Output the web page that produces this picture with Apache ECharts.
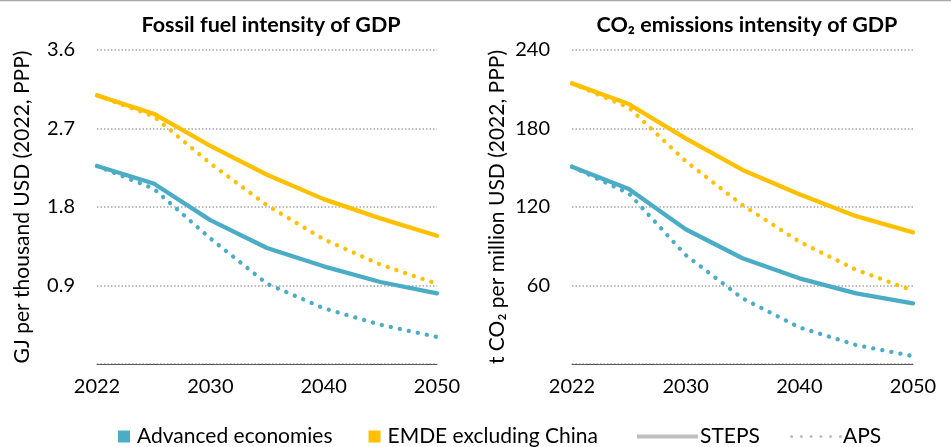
<!DOCTYPE html>
<html>
<head>
<meta charset="utf-8">
<script src="https://cdn.jsdelivr.net/npm/echarts@6/dist/echarts.min.js"></script>
<style>
html,body{margin:0;padding:0;background:#fff;}
#c{width:951px;height:447px;}
</style>
</head>
<body>
<div id="c"></div>
<script>
const years = ["2022","2025","2030","2035","2040","2045","2050"];
const shownYears = ["2022","2030","2040","2050"];

// Fossil fuel intensity of GDP (GJ per thousand USD, 2022 PPP)
const fossilAdvSTEPS = [2.27, 2.07, 1.65, 1.33, 1.12, 0.94, 0.81];
const fossilAdvAPS   = [2.27, 2.01, 1.44, 0.92, 0.64, 0.45, 0.31];
const fossilEmdeSTEPS = [3.08, 2.87, 2.50, 2.17, 1.89, 1.67, 1.47];
const fossilEmdeAPS   = [3.08, 2.84, 2.30, 1.82, 1.43, 1.14, 0.92];

// CO2 emissions intensity of GDP (t CO2 per million USD, 2022 PPP)
const co2AdvSTEPS = [150.8, 133.8, 103, 80.8, 65.5, 54, 46.4];
const co2AdvAPS   = [150.8, 130.4, 83.3, 50.2, 28, 14.5, 6];
const co2EmdeSTEPS = [214.5, 198.7, 172.5, 148.3, 129.7, 113, 100.6];
const co2EmdeAPS   = [214.5, 196, 155, 121.5, 93.5, 72, 56];

const fossilTicks = {min: 0, max: 3.6, interval: 0.9};
const co2Ticks = {min: 0, max: 240, interval: 60};

const BLUE = '#4BACC6', YELLOW = '#FFC000', GREY = '#BFBFBF';
const FONT = 'Lato, "Liberation Sans", sans-serif';
const dotted = {type: [0.1, 9.1], cap: 'round', width: 4.3};

function dotsPath(n, w, r){
  const step = (w - 2 * r) / (n - 1);
  let p = 'path://';
  for (let i = 0; i < n; i++) {
    const cx = r + i * step;
    p += 'M' + (cx - r) + ',' + r + 'A' + r + ',' + r + ' 0 1,0 ' + (cx + r) + ',' + r +
         'A' + r + ',' + r + ' 0 1,0 ' + (cx - r) + ',' + r + 'Z';
  }
  return p;
}

const chart = echarts.init(document.getElementById('c'));

function xAxis(gi){
  return {
    type: 'category', gridIndex: gi, data: years, boundaryGap: false,
    axisLine: {lineStyle: {color: '#595959', width: 1}},
    axisTick: {show: false},
    axisLabel: {
      interval: 0, margin: 13, fontSize: 20, fontFamily: FONT, color: '#000',
      formatter: v => shownYears.includes(v) ? v : ''
    },
    splitLine: {show: false}
  };
}
function yAxis(gi, t, name, gap){
  return {
    type: 'value', gridIndex: gi, min: t.min, max: t.max, interval: t.interval,
    name: name, nameLocation: 'middle', nameGap: gap, nameRotate: 90,
    nameTextStyle: {fontSize: 21, fontFamily: FONT, color: '#000'},
    axisLine: {show: false}, axisTick: {show: false},
    axisLabel: {showMinLabel: false, fontSize: 20, fontFamily: FONT, color: '#000', margin: 22},
    splitLine: {show: true, lineStyle: {color: '#A6A6A6', type: [1.5, 2], width: 1.5}}
  };
}
function line(name, gi, data, color, aps){
  return {
    name: name, type: 'line', xAxisIndex: gi, yAxisIndex: gi, data: data,
    symbol: 'none', smooth: false, silent: true,
    lineStyle: aps ? Object.assign({color: color}, dotted) : {color: color, width: 4.3, cap: 'round'},
    itemStyle: {color: color}
  };
}
const legendText = {fontSize: 21, fontFamily: FONT, color: '#000'};

chart.setOption({
  animation: false,
  textStyle: {fontFamily: FONT},
  title: [
    {text: 'Fossil fuel intensity of GDP', left: 266, top: 9, textAlign: 'center',
     textStyle: {fontSize: 21.5, fontWeight: 'bold', fontFamily: FONT, color: '#000'}},
    {text: 'CO₂ emissions intensity of GDP', left: 742, top: 9, textAlign: 'center',
     textStyle: {fontSize: 21.5, fontWeight: 'bold', fontFamily: FONT, color: '#000'}}
  ],
  grid: [
    {left: 97, right: 514, top: 50, bottom: 83},
    {left: 572, right: 38, top: 50, bottom: 83}
  ],
  xAxis: [xAxis(0), xAxis(1)],
  yAxis: [
    yAxis(0, fossilTicks, 'GJ per thousand USD (2022, PPP)', 64),
    yAxis(1, co2Ticks, 't CO₂ per million USD (2022, PPP)', 64)
  ],
  legend: [
    {data: [{name: 'Advanced economies', icon: 'rect'}, {name: 'EMDE excluding China', icon: 'rect'}],
     left: 113, top: 421, itemWidth: 12, itemHeight: 12, itemGap: 36,
     itemStyle: {borderWidth: 0},
     textStyle: Object.assign({padding: [0, 0, 0, 2]}, legendText)},
    {data: [{name: 'STEPS', icon: 'path://M0,0H61V4H0Z'}],
     left: 632, top: 421, itemWidth: 61, itemHeight: 4,
     itemStyle: {borderWidth: 0},
     textStyle: Object.assign({padding: [0, 0, 0, -3]}, legendText)},
    {data: [{name: 'APS', icon: dotsPath(6, 52, 1.6)}],
     left: 785, top: 421, itemWidth: 52, itemHeight: 3.2,
     itemStyle: {borderWidth: 0},
     textStyle: Object.assign({padding: [0, 0, 0, -4]}, legendText)}
  ],
  graphic: [
    {type: 'line', shape: {x1: 0, y1: 0.5, x2: 951, y2: 0.5}, style: {stroke: '#A6A6A6', lineWidth: 1.5}, silent: true}
  ],
  series: [
    line('Advanced economies', 0, fossilAdvSTEPS, BLUE, false),
    line('Advanced economies', 0, fossilAdvAPS, BLUE, true),
    line('EMDE excluding China', 0, fossilEmdeSTEPS, YELLOW, false),
    line('EMDE excluding China', 0, fossilEmdeAPS, YELLOW, true),
    line('Advanced economies', 1, co2AdvSTEPS, BLUE, false),
    line('Advanced economies', 1, co2AdvAPS, BLUE, true),
    line('EMDE excluding China', 1, co2EmdeSTEPS, YELLOW, false),
    line('EMDE excluding China', 1, co2EmdeAPS, YELLOW, true),
    line('STEPS', 0, [], GREY, false),
    line('APS', 0, [], GREY, true)
  ]
});
</script>
</body>
</html>
